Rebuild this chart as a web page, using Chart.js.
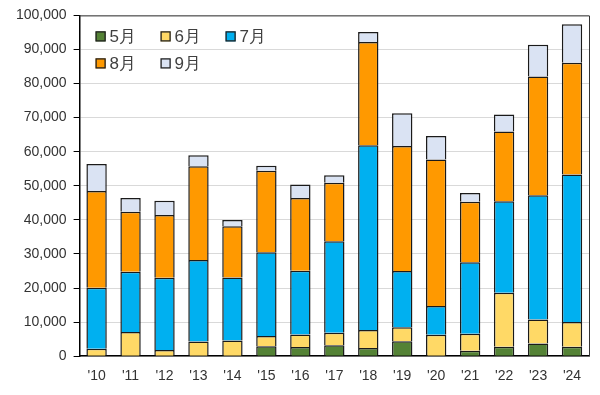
<!DOCTYPE html>
<html>
<head>
<meta charset="utf-8">
<script src="https://cdn.jsdelivr.net/npm/chart.js@4.4.1/dist/chart.umd.min.js"></script>
<style>
    html, body { margin: 0; padding: 0; background: #fff; }
    .chart-container { width: 600px; height: 395px; }
</style>
</head>
<body>
<div class="chart-container"><canvas id="stackChart" width="600" height="395"></canvas></div>
<script>
const years = ["'10", "'11", "'12", "'13", "'14", "'15", "'16", "'17", "'18", "'19", "'20", "'21", "'22", "'23", "'24"];

const may = [0, 0, 0, 0, 0, 2900, 2700, 3200, 2400, 4400, 0, 1600, 2800, 3700, 2800];
const june = [2200, 7100, 1800, 4300, 4600, 3000, 3700, 3700, 5300, 4100, 6300, 5000, 15800, 7100, 7200];
const july = [17900, 17700, 21200, 23900, 18500, 24600, 18700, 26800, 54200, 16500, 8400, 21000, 26900, 36400, 43300];
const august = [28400, 17600, 18400, 27500, 15000, 23900, 21300, 17200, 30300, 36700, 43000, 17700, 20400, 34900, 32800];
const september = [7900, 4000, 4200, 3300, 1900, 1500, 4000, 2200, 2900, 9600, 6900, 2600, 5000, 9300, 11300];

const seriesLabels = ['5月', '6月', '7月', '8月', '9月'];
const seriesColors = ['#548235', '#FFD966', '#00B0F0', '#FF9900', '#DAE3F3'];

(function() {
    const seriesData = [may, june, july, august, september];
    const fontFamily = "'Liberation Sans', Arial, sans-serif";

    // frame on top and right of the plot area
    const framePlugin = {
        id: 'frame',
        afterDraw(chart) {
            const { ctx, chartArea } = chart;
            ctx.save();
            ctx.strokeStyle = '#333';
            ctx.lineWidth = 1;
            ctx.beginPath();
            ctx.moveTo(chartArea.left, chartArea.top + 0.5);
            ctx.lineTo(chartArea.right + 0.5, chartArea.top + 0.5);
            ctx.lineTo(chartArea.right + 0.5, chartArea.bottom);
            ctx.stroke();
            ctx.restore();
        }
    };

    // legend drawn inside the plot, two rows
    const insideLegend = {
        id: 'insideLegend',
        afterDraw(chart) {
            const { ctx, chartArea } = chart;
            const perRow = 3;
            const colW = 65;
            const rowH = 27;
            const x0 = chartArea.left + 16;
            const y0 = chartArea.top + 21;
            ctx.save();
            ctx.font = '17px ' + fontFamily;
            ctx.textBaseline = 'middle';
            ctx.textAlign = 'left';
            chart.data.datasets.forEach((ds, i) => {
                const x = x0 + (i % perRow) * colW;
                const y = y0 + Math.floor(i / perRow) * rowH;
                ctx.fillStyle = ds.backgroundColor;
                ctx.fillRect(x, y - 5, 10, 10);
                ctx.strokeStyle = '#222';
                ctx.lineWidth = 1.3;
                ctx.strokeRect(x + 0.5, y - 4.5, 9, 9);
                ctx.fillStyle = '#404040';
                ctx.fillText(ds.label, x + 14, y + 1);
            });
            ctx.restore();
        }
    };

    const datasets = seriesLabels.map((label, i) => ({
        label: label,
        data: seriesData[i],
        backgroundColor: seriesColors[i],
        borderColor: '#1a1a1a',
        borderWidth: 1.5,
        borderSkipped: 'start',
        barPercentage: 0.6,
        categoryPercentage: 1.0
    }));

    const ctx = document.getElementById('stackChart').getContext('2d');

    new Chart(ctx, {
        type: 'bar',
        data: { labels: years, datasets },
        options: {
            responsive: false,
            animation: false,
            layout: {
                padding: { left: 9, right: 11, top: 15, bottom: -2 }
            },
            plugins: {
                legend: { display: false },
                tooltip: { enabled: false }
            },
            scales: {
                x: {
                    stacked: true,
                    grid: { display: false, drawTicks: false },
                    border: { display: true, color: '#000', width: 1.5 },
                    ticks: {
                        color: '#333',
                        padding: 12,
                        font: { family: fontFamily, size: 14 }
                    }
                },
                y: {
                    stacked: true,
                    min: 0,
                    max: 100000,
                    grid: {
                        color: '#D9D9D9',
                        lineWidth: 1,
                        tickColor: '#000',
                        tickLength: 6
                    },
                    border: { display: true, color: '#000', width: 1.5 },
                    ticks: {
                        stepSize: 10000,
                        color: '#333',
                        padding: 7,
                        font: { family: fontFamily, size: 14 },
                        callback: function(value) {
                            return value.toLocaleString('en-US');
                        }
                    }
                }
            }
        },
        plugins: [framePlugin, insideLegend]
    });
})();
</script>
</body>
</html>
